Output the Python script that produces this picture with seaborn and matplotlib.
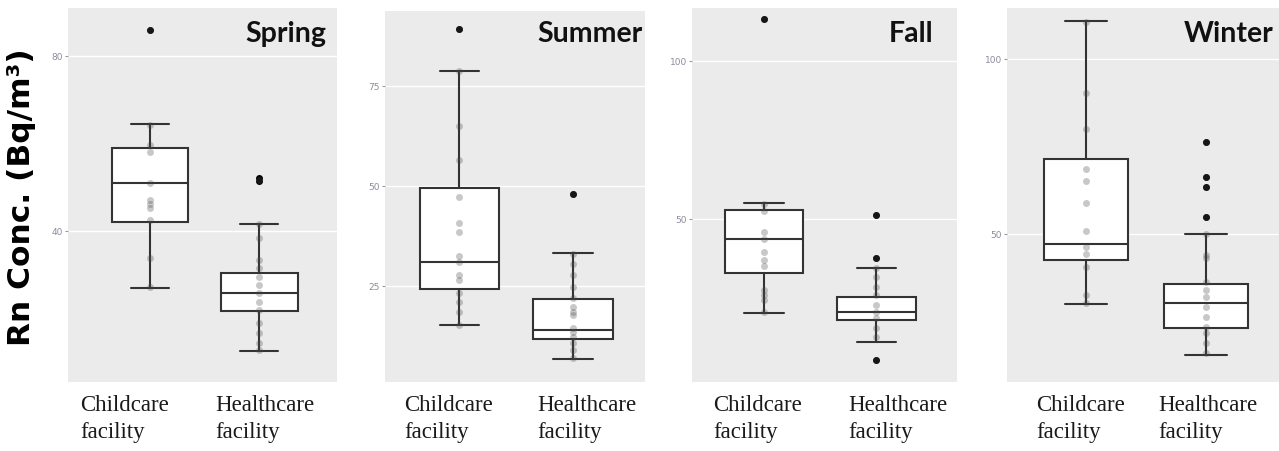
"""Seasonal radon concentration boxplots by facility type."""

import matplotlib.pyplot as plt
import numpy as np
import pandas as pd
import seaborn as sns

SEASONS = ["Spring", "Summer", "Fall", "Winter"]
FACILITIES = ["Childcare facility", "Healthcare facility"]

# one entry per (season, facility), in season order, childcare first
GROUP_SEASON = ["Spring", "Spring", "Summer", "Summer", "Fall", "Fall", "Winter", "Winter"]
GROUP_FACILITY = FACILITIES * 4
WHISKER_LOW = [27.0, 12.6, 15.25, 6.75, 20.3, 11.1, 30.0, 15.4]
Q1 = [42.0, 21.7, 24.25, 11.75, 32.9, 18.0, 42.6, 23.1]
MEDIAN = [51.0, 25.8, 31.0, 14.0, 43.7, 20.6, 47.1, 30.3]
Q3 = [59.0, 30.4, 49.5, 21.75, 52.8, 25.3, 71.4, 35.7]
WHISKER_HIGH = [64.5, 41.6, 78.75, 33.25, 55.0, 34.5, 110.9, 50.0]
OUTLIERS = [
    [85.9],
    [51.5, 52.2],
    [89.25],
    [48.0],
    [113.3],
    [51.3, 37.7, 5.4],
    [],
    [76.3, 66.3, 63.4, 54.9],
]
POINTS = [
    [85.9, 64.2, 59.7, 58.1, 51.0, 47.1, 46.2, 45.3, 42.5, 33.8, 27.2],
    [51.7, 41.6, 38.4, 33.4, 31.5, 29.5, 27.7, 25.8, 23.8, 21.9, 19.0, 16.7, 14.4, 12.8],
    [89.25, 78.75, 65.0, 56.5, 47.25, 40.75, 38.5, 32.5, 31.0, 27.75, 26.5, 23.25, 21.0, 18.5, 15.25],
    [48.0, 33.0, 30.5, 27.75, 24.75, 22.0, 19.75, 18.5, 17.75, 14.5, 13.5, 12.25, 10.75, 9.0, 7.0],
    [113.3, 54.7, 52.5, 45.9, 43.7, 39.6, 37.0, 35.1, 27.5, 26.0, 24.4, 20.6],
    [51.3, 37.7, 34.5, 31.6, 28.5, 26.0, 22.8, 20.6, 18.7, 15.5, 12.7, 5.4],
    [110.6, 90.3, 80.0, 68.6, 65.1, 58.9, 50.9, 46.3, 44.3, 40.6, 32.6, 30.3],
    [76.3, 66.3, 63.4, 54.9, 50.0, 44.0, 43.1, 36.3, 34.0, 32.0, 29.1, 26.3, 23.4, 21.7, 18.9, 16.0],
]
Y_TICKS = {"Spring": [40, 80], "Summer": [25, 50, 75], "Fall": [50, 100], "Winter": [50, 100]}

# layout (pixels of the 1279x451 canvas)
W, H = 1279, 451
PANELS = [(68, 8, 337, 382), (385, 11, 645, 382), (692, 8, 957, 382), (1007, 8, 1279, 382)]
X_LIMS = [(-0.75, 1.71), (-0.656, 1.634), (-0.64, 1.716), (-0.654, 1.61)]
Y_LIMS = [(5.5, 91.0), (1.0, 93.75), (-1.6, 116.8), (7.7, 114.6)]
TITLE_RIGHT = [326, 643, 933, 1273]
LABEL_LEFT = [(80, 215), (404, 537), (713, 848), (1036, 1158)]

sns.set_theme(style="darkgrid", rc={"axes.facecolor": "#EBEBEB", "grid.color": "white",
                                    "grid.linewidth": 1.0})
plt.rcParams["font.family"] = ["DejaVu Sans"]

rows = []
for season, fac, pts in zip(GROUP_SEASON, GROUP_FACILITY, POINTS):
    for v in pts:
        rows.append({"season": season, "facility": fac, "value": v})
df = pd.DataFrame(rows)

fig = plt.figure(figsize=(W / 100, H / 100), dpi=100)

for i, season in enumerate(SEASONS):
    x0, y0, x1, y1 = PANELS[i]
    ax = fig.add_axes([x0 / W, 1 - y1 / H, (x1 - x0) / W, (y1 - y0) / H])

    stats = []
    for g in range(len(GROUP_SEASON)):
        if GROUP_SEASON[g] != season:
            continue
        stats.append({
            "whislo": WHISKER_LOW[g], "q1": Q1[g], "med": MEDIAN[g], "q3": Q3[g],
            "whishi": WHISKER_HIGH[g], "fliers": np.array(OUTLIERS[g]),
        })
    line = {"color": "#333333", "linewidth": 1.5}
    ax.bxp(
        stats, positions=[0, 1], widths=0.7, capwidths=0.35, patch_artist=True,
        boxprops={"facecolor": "white", "edgecolor": "#333333", "linewidth": 1.5},
        medianprops=line, whiskerprops=line, capprops=line,
        flierprops={"marker": "o", "markerfacecolor": "black", "markeredgecolor": "black",
                    "markersize": 4},
        zorder=2,
    )
    sns.stripplot(
        data=df[df["season"] == season], x="facility", y="value", order=FACILITIES,
        jitter=False, color="#4a4a4a", alpha=0.3, size=5, linewidth=0, ax=ax, zorder=3,
    )

    ax.set_xlim(*X_LIMS[i])
    ax.set_ylim(*Y_LIMS[i])
    ax.set_yticks(Y_TICKS[season])
    ax.set_xticks([])
    ax.set_xlabel("")
    ax.set_ylabel("")
    ax.grid(axis="x", visible=False)
    ax.tick_params(axis="y", labelsize=6.5, labelcolor="#8a8d9c", length=2.5, width=0.8,
                   color="#9a9a9a", pad=1, left=True)
    for sp in ax.spines.values():
        sp.set_visible(False)

    fig.text(TITLE_RIGHT[i] / W, 1 - 42 / H, season, ha="right", va="baseline",
             fontsize=20.5, fontweight="bold", family=["Lato", "DejaVu Sans"], color="#111111")
    for left, fac in zip(LABEL_LEFT[i], FACILITIES):
        fig.text(left / W, 1 - 395 / H, fac.replace(" ", "\n"), ha="left", va="top",
                 fontsize=16.5, family=["Liberation Serif", "DejaVu Serif"],
                 color="#1a1a1a", linespacing=1.38)

fig.text(22 / W, 1 - 197 / H, "Rn Conc. (Bq/m³)", rotation=90, ha="center", va="center",
         fontsize=22.5, fontweight="bold", color="black")

fig.savefig("out.png", dpi=100)
plt.close("all")
